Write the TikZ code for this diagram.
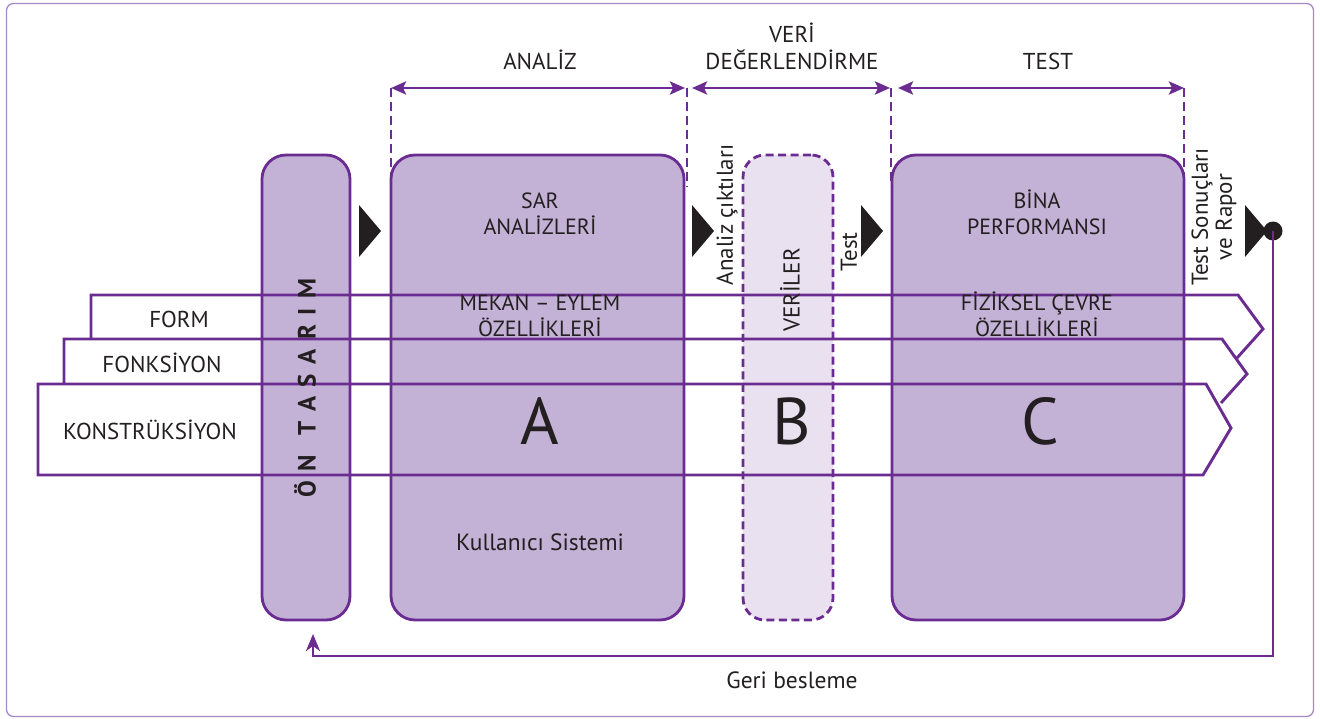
\documentclass[tikz,border=0pt]{standalone}
\usepackage{fontspec}
\setmainfont{PT Sans}
\usetikzlibrary{arrows.meta,calc}

\definecolor{pline}{HTML}{6B2C91}
\definecolor{pfill}{HTML}{C4B1D6}
\definecolor{plight}{HTML}{E9E1F0}
\definecolor{pframe}{HTML}{A489C7}
\definecolor{ink}{HTML}{231F20}

\newcommand{\ls}{\hspace{9.5pt}}

\tikzset{
  stage/.style={draw=pline, line width=2.8pt, fill=pfill, rounded corners=24pt, inner sep=0pt},
  datastage/.style={draw=pline, line width=2.8pt, fill=plight, rounded corners=22pt,
    dash pattern=on 8pt off 4.5pt, inner sep=0pt},
  band/.style={draw=pline, line width=2.9pt, line join=miter},
  lbl/.style={text=ink, font=\fontsize{22}{26}\selectfont, align=center, inner sep=0pt},
  lowlbl/.style={text=ink, font=\fontsize{23.5}{26}\selectfont, align=center, inner sep=0pt},
  biglbl/.style={text=ink, font=\fontsize{66}{70}\selectfont, inner sep=0pt},
  toplbl/.style={text=ink, font=\fontsize{23}{27}\selectfont, align=center, inner sep=0pt},
  sidelbl/.style={text=ink, font=\fontsize{23}{24}\selectfont, align=center, inner sep=0pt, rotate=90},
  guide/.style={draw=pline, line width=2.7pt, dash pattern=on 9pt off 5pt},
  span/.style={draw=pline, line width=2.9pt, {Stealth[length=15pt,width=13pt,inset=3pt]}-{Stealth[length=15pt,width=13pt,inset=3pt]}},
  flowtip/.style={fill=ink},
  feedback/.style={draw=pline, line width=2.7pt, -{Stealth[length=17pt,width=14pt,inset=5pt]}},
}

\begin{document}
\begin{tikzpicture}[x=1pt,y=-1pt]
\useasboundingbox (0,0) rectangle (1320,719);

% outer frame
\draw[pframe, line width=1.3pt, rounded corners=7pt] (6.5,3.5) rectangle (1313.5,716.5);

% stage boxes
\node[stage, minimum width=88pt, minimum height=465pt] (pre) at (306,387.5) {};
\node[stage, minimum width=293pt, minimum height=465pt] (boxA) at (537.5,387.5) {};
\node[datastage, minimum width=90pt, minimum height=465pt] (boxB) at (788,387.5) {};
\node[stage, minimum width=292pt, minimum height=465pt] (boxC) at (1038,387.5) {};

% phase guides and spans
\coordinate (g1) at (391,88);
\coordinate (g2) at (687,88);
\coordinate (g3) at (891,88);
\coordinate (g4) at (1184,88);
\draw[guide] (g1) -- (391,188);
\draw[guide] (g2) -- (687,187);
\draw[guide] (g3) -- (891,186);
\draw[guide] (g4) -- (1184,185);
\draw[span, shorten >=2pt] (g1) -- (g2);
\draw[span, shorten <=5pt, shorten >=1pt] (g2) -- (g3);
\draw[span, shorten <=7pt] (g3) -- (g4);

\node[toplbl, anchor=base] (tA) at (540,70) {ANALİZ};
\node[toplbl, anchor=base] (tB) at (792,70) {VERİ\\DEĞERLENDİRME};
\node[toplbl, anchor=base] (tC) at (1048,70) {TEST};

% layered bands
\draw[band] (1237,358) -- (1263,329) -- (1238,295) -- (91,295) -- (91,339);
\draw[band] (1221,403) -- (1247,374) -- (1222,339) -- (64,339) -- (64,384);
\draw[band] (38,384) -- (1206,384) -- (1231,428) -- (1203,475) -- (38,475) -- cycle;

\node[toplbl, anchor=base] (fForm) at (179,327) {FORM};
\node[toplbl, anchor=base] (fFonk) at (162,372) {FONKSİYON};
\node[toplbl, anchor=base] (fKons) at (150,439) {KONSTRÜKSİYON};

% flow markers
\fill[flowtip] (359,205) -- (381,231) -- (359,257) -- cycle;
\fill[flowtip] (692,205) -- (714,231) -- (692,257) -- cycle;
\fill[flowtip] (861,205) -- (883,231) -- (861,257) -- cycle;
\fill[flowtip] (1245,205) -- (1267,231) -- (1245,257) -- cycle;
\node[circle, fill=ink, minimum size=19pt, inner sep=0pt] (dot) at (1273,231) {};

% feedback loop
\coordinate (fbend) at (313,656);
\coordinate (fbtip) at (313,634);
\draw[feedback] (dot.center) |- (fbend) -- (fbtip);
\node[lowlbl] (fbl) at (792,680) {Geri besleme};

% box texts
\node[lbl, anchor=base] (a1) at (540,235) {SAR\\ANALİZLERİ};
\node[lbl, anchor=base] (a2) at (540,337) {MEKAN – EYLEM\\ÖZELLİKLERİ};
\node[biglbl, anchor=base] (a3) at (540,444) {A};
\node[lowlbl, anchor=base] (a4) at (540,550) {Kullanıcı Sistemi};

\node[sidelbl] (b1) at (790,290) {VERİLER};
\node[biglbl, anchor=base] (b2) at (792,444) {B};

\node[lbl, anchor=base] (c1) at (1037,235) {BİNA\\PERFORMANSI};
\node[lbl, anchor=base] (c2) at (1037,337) {FİZİKSEL ÇEVRE\\ÖZELLİKLERİ};
\node[biglbl, anchor=base] (c3) at (1040,444) {C};

% rotated labels
\node[sidelbl] (s1) at (727,215) {Analiz çıktıları};
\node[sidelbl] (s2) at (849,252) {Test};
\node[sidelbl] (s3) at (1214,217) {Test Sonuçları\\ve Rapor};
\node[text=ink, font=\fontsize{25}{28}\selectfont\bfseries, rotate=90, inner sep=0pt] (pre1) at (305,388)
  {Ö\ls N\ls\ls T\ls A\ls S\ls A\ls R\ls I\ls M};
\end{tikzpicture}
\end{document}
